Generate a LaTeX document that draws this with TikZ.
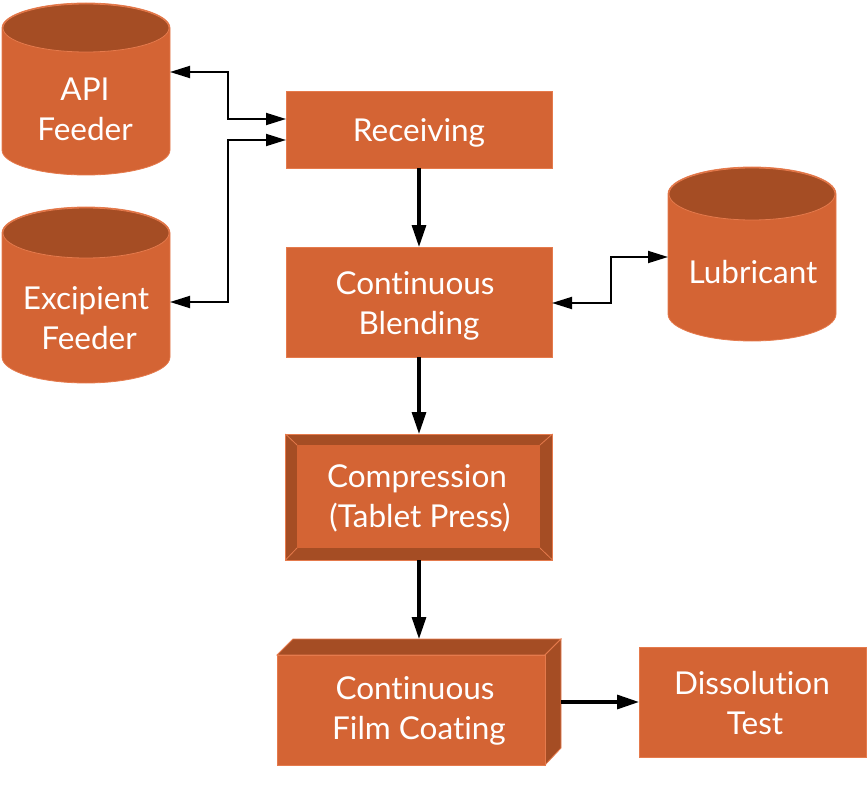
\documentclass[tikz,border=0pt]{standalone}
\usepackage{fontspec}
\setmainfont[Ligatures={NoCommon}]{Lato}
\usetikzlibrary{arrows.meta,calc}
\definecolor{mainc}{HTML}{D46434}
\definecolor{darkc}{HTML}{A54D24}
\definecolor{edgec}{HTML}{E57A4C}
\tikzset{
  lbl/.style={text=white, font=\fontsize{31.5}{40}\selectfont, align=center, inner sep=0pt, yshift=-2.5pt},
  anchorbox/.style={inner sep=0pt, outer sep=0pt},
  flowbox/.style={fill=mainc, draw=edgec, line width=0.8pt, inner sep=0pt, outer sep=0pt},
  thickarrow/.style={line width=3.2pt, -{Triangle[length=22pt,width=14pt]}},
  thinarrow/.style={line width=1.8pt, {Triangle[length=20pt,width=12pt]}-{Triangle[length=20pt,width=12pt]}},
}
% cylinder: #1 name, #2 left x, #3 right x, #4 top ellipse centre y, #5 bottom ellipse centre y, #6 ry
\newcommand\mycylinder[6]{%
  \fill[mainc, draw=edgec, line width=0.8pt] (#2pt,-#4pt) -- (#2pt,-#5pt)
     arc[start angle=180, end angle=360, x radius={(#3-#2)/2*1pt}, y radius=#6pt]
     -- (#3pt,-#4pt)
     arc[start angle=0, end angle=180, x radius={(#3-#2)/2*1pt}, y radius=#6pt] -- cycle;
  \fill[darkc, draw=edgec, line width=0.8pt] ({(#2+#3)/2*1pt},-#4pt) ellipse[x radius={(#3-#2)/2*1pt-1pt}, y radius={#6pt-1pt}];
  \node[anchorbox, minimum width={(#3-#2)*1pt}, minimum height={(#5-#4)*1pt}] (#1) at ({(#2+#3)/2*1pt},{-(#4+#5)/2*1pt}) {};
}
\begin{document}
\begin{tikzpicture}[x=1pt,y=1pt]
\useasboundingbox (0,0) rectangle (868,-789);

% cylinders
\mycylinder{api}{2}{170}{28}{150}{25}
\node[lbl] at (85,-107) {API\\Feeder};
\mycylinder{exc}{2}{170}{233}{357}{26}
\node[lbl] at (86,-316) {Excipient\\\hspace*{6pt}Feeder};
\mycylinder{lub}{668}{836}{194}{314}{27}
\node[lbl] at (753,-270) {Lubricant};

% boxes
\node[flowbox, minimum width=266, minimum height=77] (rec) at (419,-129.5) {};
\node[lbl] at (419,-130) {Receiving};
\node[flowbox, minimum width=266, minimum height=110] (bld) at (419,-302) {};
\node[lbl] at (415,-303) {Continuous\\\hspace*{8pt}Blending};

% compression (bevel)
\node[fill=darkc, draw=edgec, line width=0.8pt, minimum width=267, minimum height=126, inner sep=0pt, outer sep=0pt] (cmp) at (419,-497) {};
\fill[mainc] (297,-445) rectangle (540,-548);
\draw[edgec, line width=0.8pt] (cmp.north west) -- (297,-445) (cmp.north east) -- (540,-445)
  (cmp.south west) -- (297,-548) (cmp.south east) -- (540,-548);
\node[lbl] at (417,-496) {Compression\\\hspace*{6pt}(Tablet Press)};

% film coating (3D box)
\fill[darkc, draw=edgec, line width=0.8pt] (277,-655) -- (293,-639) -- (561,-639) -- (545,-655) -- cycle;
\fill[darkc, draw=edgec, line width=0.8pt] (545,-655) -- (561,-639) -- (561,-748) -- (545,-765) -- cycle;
\node[flowbox, minimum width=268, minimum height=110] (film) at (411,-710) {};
\coordinate (filmtop) at (419,-639);
\coordinate (filmright) at (561,-702);
\node[lbl] at (419,-708) {\hspace*{-8pt}Continuous\\Film Coating};

\node[flowbox, minimum width=227, minimum height=110] (dis) at (752.5,-702) {};
\node[lbl] at (752,-701) {Dissolution\\\hspace*{6pt}Test};

% thick flow arrows
\draw[thickarrow] (rec.south) -- (bld.north);
\draw[thickarrow] (bld.south) -- (cmp.north);
\draw[thickarrow] (cmp.south) -- (filmtop);
\draw[thickarrow] (filmright) -- (dis.west |- filmright);

% thin bidirectional connectors
\draw[thinarrow] (api.east |- 0,-72) -| (228,-119) -- ($(rec.west)+(0,10.5)$);
\draw[thinarrow] (exc.east |- 0,-302) -| (228,-140) -- ($(rec.west)+(0,-10.5)$);
\draw[thinarrow] (bld.east |- 0,-303) -| (611,-257) -- (lub.west |- 0,-257);
\end{tikzpicture}
\end{document}
